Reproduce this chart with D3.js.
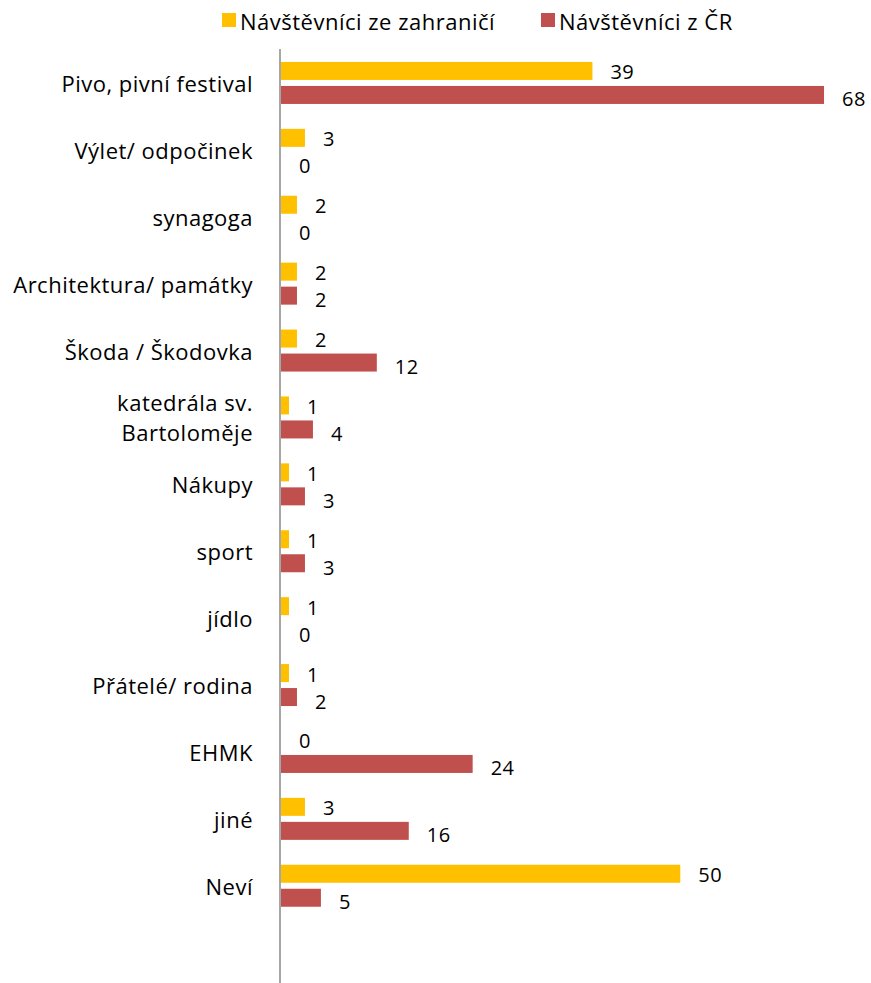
<!DOCTYPE html>
<html>
<head>
<meta charset="utf-8">
<script src="https://cdn.jsdelivr.net/npm/d3@7/dist/d3.min.js"></script>
<style>
  html, body { margin: 0; padding: 0; background: #ffffff; }
  svg { display: block; font-family: "Open Sans", Lato, sans-serif; }
</style>
</head>
<body>
<svg id="chart" width="871" height="983"></svg>
<script>
// Reasons for visiting, share of answers (%)
const categories = [
  "Pivo, pivní festival",
  "Výlet/ odpočinek",
  "synagoga",
  "Architektura/ památky",
  "Škoda / Škodovka",
  "katedrála sv. Bartoloměje",
  "Nákupy",
  "sport",
  "jídlo",
  "Přátelé/ rodina",
  "EHMK",
  "jiné",
  "Neví"
];
const foreignVisitors  = [39, 3, 2, 2, 2, 1, 1, 1, 1, 1, 0, 3, 50];
const domesticVisitors = [68, 0, 0, 2, 12, 4, 3, 3, 0, 2, 24, 16, 5];
const seriesNames  = ["Návštěvníci ze zahraničí", "Návštěvníci z ČR"];
const seriesColors = ["#FFC000", "#C0504D"];

// Category labels that wrap onto two lines
const labelLines = {
  "katedrála sv. Bartoloměje": ["katedrála sv.", "Bartoloměje"]
};

const svg = d3.select("#chart");
const textSize = 22;
const valueSize = 20;
const spacing = 0.5;

const y = d3.scaleBand()
  .domain(categories)
  .range([49.5, 919.2]);

const x = d3.scaleLinear()
  .domain([0, 70])
  .range([281, 840]);

const barH = 18, innerGap = 6;

const rows = categories.map((c, i) => ({
  cat: c,
  values: [foreignVisitors[i], domesticVisitors[i]]
}));

// Bars
const groups = svg.append("g").selectAll("g.row")
  .data(rows)
  .join("g")
  .attr("class", "row")
  .attr("transform", d => `translate(0,${y(d.cat) + y.bandwidth() / 2})`);

groups.selectAll("rect")
  .data(d => d.values.map((v, s) => ({ v, s })))
  .join("rect")
  .attr("x", x(0))
  .attr("y", d => d.s === 0 ? -innerGap / 2 - barH : innerGap / 2)
  .attr("width", d => Math.max(0, x(d.v) - x(0)))
  .attr("height", barH)
  .attr("fill", d => seriesColors[d.s]);

// Value labels at the end of each bar
groups.selectAll("text.value")
  .data(d => d.values.map((v, s) => ({ v, s })))
  .join("text")
  .attr("class", "value")
  .attr("x", d => x(d.v) + 18)
  .attr("y", d => d.s === 0 ? -innerGap / 2 - barH / 2 + 1 : innerGap / 2 + barH / 2 + 4)
  .attr("dominant-baseline", "central")
  .attr("font-size", valueSize)
  .attr("letter-spacing", spacing)
  .attr("fill", "#000")
  .text(d => d3.format("d")(d.v));

// Category axis line
svg.append("line")
  .attr("x1", 280).attr("x2", 280)
  .attr("y1", 49).attr("y2", 983)
  .attr("stroke", "#A6A6A6")
  .attr("stroke-width", 2);

// Category labels
const catLabels = svg.append("g").selectAll("text.cat")
  .data(categories)
  .join("text")
  .attr("class", "cat")
  .attr("text-anchor", "end")
  .attr("font-size", textSize)
  .attr("letter-spacing", spacing)
  .attr("fill", "#000");

catLabels.each(function(c) {
  const lines = labelLines[c] || [c];
  const cy = y(c) + y.bandwidth() / 2;
  const lh = 30;
  const t = d3.select(this);
  lines.forEach((ln, k) => {
    t.append("tspan")
      .attr("x", 253)
      .attr("y", cy + (k - (lines.length - 1) / 2) * lh)
      .attr("dominant-baseline", "central")
      .text(ln);
  });
});

// Legend
const legendItems = [
  { name: seriesNames[0], color: seriesColors[0], x: 222 },
  { name: seriesNames[1], color: seriesColors[1], x: 541 }
];
const legend = svg.append("g").selectAll("g.legend")
  .data(legendItems)
  .join("g")
  .attr("class", "legend")
  .attr("transform", d => `translate(${d.x},13)`);
legend.append("rect")
  .attr("width", 14).attr("height", 14)
  .attr("fill", d => d.color);
legend.append("text")
  .attr("x", 18).attr("y", 8)
  .attr("dominant-baseline", "central")
  .attr("font-size", textSize)
  .attr("letter-spacing", spacing)
  .attr("fill", "#000")
  .text(d => d.name);
</script>
</body>
</html>
